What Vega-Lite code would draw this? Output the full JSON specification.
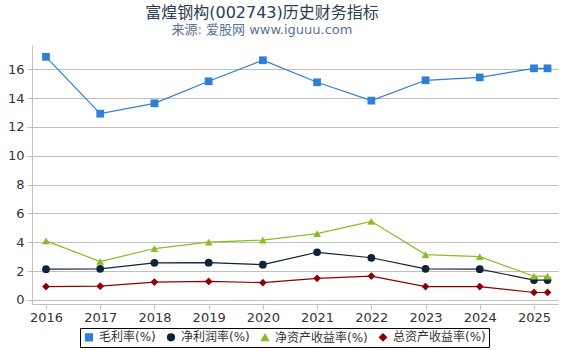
{
  "$schema": "https://vega.github.io/schema/vega-lite/v6.json",
  "autosize": "none",
  "width": 526,
  "height": 259,
  "padding": {"left": 32, "top": 45, "right": 12, "bottom": 46},
  "background": "white",
  "title": {
    "text": "富煌钢构(002743)历史财务指标",
    "subtitle": "来源: 爱股网 www.iguuu.com",
    "anchor": "middle",
    "dx": -33,
    "offset": 8,
    "fontSize": 16,
    "fontWeight": "normal",
    "color": "#2b3d52",
    "subtitleFontSize": 13,
    "subtitleColor": "#5a7396",
    "subtitlePadding": 3,
    "font": "DejaVu Sans, Noto Sans CJK SC",
    "subtitleFont": "DejaVu Sans, Noto Sans CJK SC"
  },
  "config": {
    "view": {"stroke": null},
    "font": "DejaVu Sans, Noto Sans CJK SC"
  },
  "data": {
    "values": [
      {"year": 2016, "series": "毛利率(%)", "value": 16.87},
      {"year": 2017, "series": "毛利率(%)", "value": 12.92},
      {"year": 2018, "series": "毛利率(%)", "value": 13.64},
      {"year": 2019, "series": "毛利率(%)", "value": 15.17},
      {"year": 2020, "series": "毛利率(%)", "value": 16.63},
      {"year": 2021, "series": "毛利率(%)", "value": 15.10},
      {"year": 2022, "series": "毛利率(%)", "value": 13.83},
      {"year": 2023, "series": "毛利率(%)", "value": 15.24},
      {"year": 2024, "series": "毛利率(%)", "value": 15.44},
      {"year": 2025, "series": "毛利率(%)", "value": 16.07},
      {"year": 2025.25, "series": "毛利率(%)", "value": 16.07},
      {"year": 2016, "series": "净利润率(%)", "value": 2.13},
      {"year": 2017, "series": "净利润率(%)", "value": 2.15},
      {"year": 2018, "series": "净利润率(%)", "value": 2.57},
      {"year": 2019, "series": "净利润率(%)", "value": 2.58},
      {"year": 2020, "series": "净利润率(%)", "value": 2.44},
      {"year": 2021, "series": "净利润率(%)", "value": 3.30},
      {"year": 2022, "series": "净利润率(%)", "value": 2.92},
      {"year": 2023, "series": "净利润率(%)", "value": 2.15},
      {"year": 2024, "series": "净利润率(%)", "value": 2.13},
      {"year": 2025, "series": "净利润率(%)", "value": 1.37},
      {"year": 2025.25, "series": "净利润率(%)", "value": 1.37},
      {"year": 2016, "series": "净资产收益率(%)", "value": 4.09},
      {"year": 2017, "series": "净资产收益率(%)", "value": 2.66},
      {"year": 2018, "series": "净资产收益率(%)", "value": 3.56},
      {"year": 2019, "series": "净资产收益率(%)", "value": 4.01},
      {"year": 2020, "series": "净资产收益率(%)", "value": 4.15},
      {"year": 2021, "series": "净资产收益率(%)", "value": 4.59},
      {"year": 2022, "series": "净资产收益率(%)", "value": 5.45},
      {"year": 2023, "series": "净资产收益率(%)", "value": 3.14},
      {"year": 2024, "series": "净资产收益率(%)", "value": 3.00},
      {"year": 2025, "series": "净资产收益率(%)", "value": 1.64},
      {"year": 2025.25, "series": "净资产收益率(%)", "value": 1.64},
      {"year": 2016, "series": "总资产收益率(%)", "value": 0.92},
      {"year": 2017, "series": "总资产收益率(%)", "value": 0.95},
      {"year": 2018, "series": "总资产收益率(%)", "value": 1.23},
      {"year": 2019, "series": "总资产收益率(%)", "value": 1.28},
      {"year": 2020, "series": "总资产收益率(%)", "value": 1.19},
      {"year": 2021, "series": "总资产收益率(%)", "value": 1.49},
      {"year": 2022, "series": "总资产收益率(%)", "value": 1.65},
      {"year": 2023, "series": "总资产收益率(%)", "value": 0.92},
      {"year": 2024, "series": "总资产收益率(%)", "value": 0.92},
      {"year": 2025, "series": "总资产收益率(%)", "value": 0.51},
      {"year": 2025.25, "series": "总资产收益率(%)", "value": 0.51}
    ]
  },
  "encoding": {
    "x": {
      "field": "year",
      "type": "quantitative",
      "scale": {"domain": [2015.742, 2025.443], "nice": false, "zero": false},
      "axis": {
        "title": null,
        "values": [2016, 2017, 2018, 2019, 2020, 2021, 2022, 2023, 2024, 2025],
        "format": "d",
        "grid": false,
        "domainColor": "#c0c0c0",
        "tickColor": "#c0c0c0",
        "tickSize": 5,
        "labelFontSize": 13,
        "labelColor": "#333333",
        "labelPadding": 2
      }
    },
    "y": {
      "field": "value",
      "type": "quantitative",
      "scale": {"domain": [-0.29, 17.69], "nice": false, "zero": false},
      "axis": {
        "title": null,
        "values": [0, 2, 4, 6, 8, 10, 12, 14, 16],
        "gridColor": "#c0c0c0",
        "domainColor": "#c0c0c0",
        "tickColor": "#c0c0c0",
        "tickSize": 5,
        "labelFontSize": 13,
        "labelColor": "#333333",
        "labelPadding": 3
      }
    },
    "color": {
      "field": "series",
      "type": "nominal",
      "sort": ["毛利率(%)", "净利润率(%)", "净资产收益率(%)", "总资产收益率(%)"],
      "scale": {
        "domain": ["毛利率(%)", "净利润率(%)", "净资产收益率(%)", "总资产收益率(%)"],
        "range": ["#2f7ed8", "#0d233a", "#8bbc21", "#910000"]
      },
      "legend": {
        "title": null,
        "orient": "none",
        "legendX": 48,
        "legendY": 283,
        "direction": "horizontal",
        "columns": 4,
        "strokeColor": "#000000",
        "padding": 3,
        "labelFontSize": 12,
        "labelColor": "#333333",
        "symbolSize": 45,
        "columnPadding": 8,
        "labelOffset": 4,
        "symbolOpacity": 1
      }
    }
  },
  "layer": [
    {
      "mark": {"type": "line", "strokeWidth": 1.2}
    },
    {
      "mark": {"type": "point", "filled": true, "opacity": 1, "size": 60},
      "encoding": {
        "shape": {
          "field": "series",
          "type": "nominal",
          "sort": ["毛利率(%)", "净利润率(%)", "净资产收益率(%)", "总资产收益率(%)"],
          "scale": {
            "domain": ["毛利率(%)", "净利润率(%)", "净资产收益率(%)", "总资产收益率(%)"],
            "range": ["square", "circle", "triangle-up", "diamond"]
          },
          "legend": {
            "title": null,
            "orient": "none",
            "legendX": 48,
            "legendY": 283,
            "direction": "horizontal",
            "columns": 4,
            "strokeColor": "#000000",
            "padding": 3,
            "labelFontSize": 12,
            "labelColor": "#333333",
            "symbolSize": 45,
            "columnPadding": 8,
            "labelOffset": 4,
            "symbolOpacity": 1
          }
        }
      }
    }
  ]
}
